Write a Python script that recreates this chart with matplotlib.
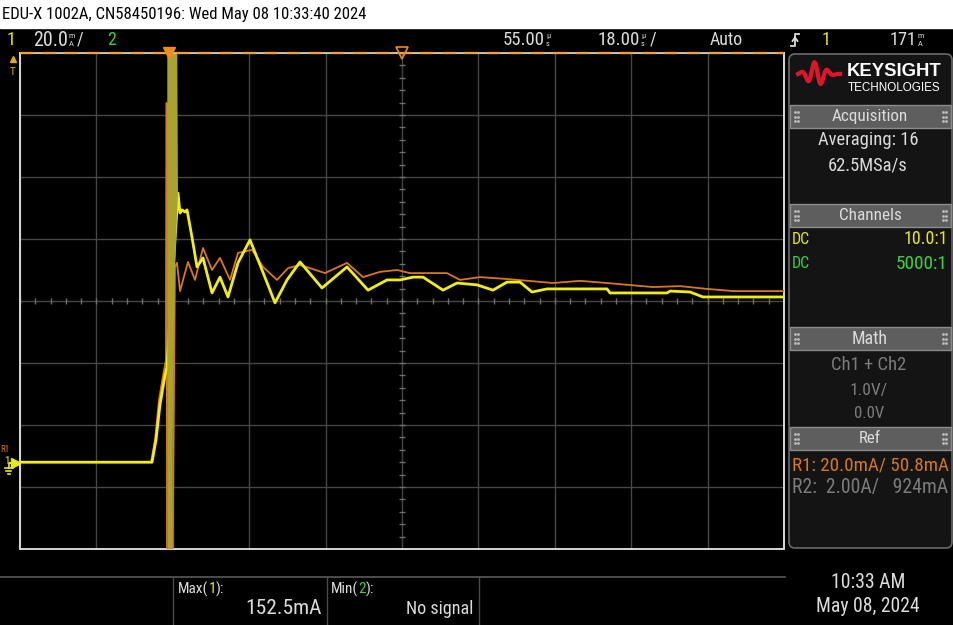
import os
import numpy as np
import matplotlib.pyplot as plt
from matplotlib import font_manager as fm
from matplotlib.font_manager import FontProperties
from matplotlib.patches import Rectangle, FancyBboxPatch

# scope settings
t_center = 55.0   # us  (delay)
t_div = 18.0      # us/div
i_center = 52.0   # mA at screen centre
i_div = 20.0      # mA/div

# Ch1 - yellow - IP coil (time in us, current in mA)
yel_t = [-35, -3.90, -2.96, -2.02, -0.84, -0.37, 2.22, 2.70, 3.17, 3.87, 4.35,
         5.52, 6.70, 8.11, 10.24, 12.12, 14.00, 16.36, 19.19, 22.02, 25.08,
         27.91, 30.97, 36.15, 42.04, 46.99, 51.47, 54.53, 57.59, 59.95, 64.66,
         67.96, 72.67, 76.44, 79.74, 82.80, 85.63, 89.16, 103.30, 104.00,
         117.43, 118.14, 122.85, 125.91, 145]
yel_i = [0, 0, 7.2, 18.5, 28.1, 30.7, 86.8, 80.4, 81.4, 80.7, 81.4,
         72.6, 63.0, 65.9, 54.6, 59.7, 53.3, 64.3, 71.7, 62.0, 51.4,
         58.8, 64.6, 56.2, 63.0, 55.5, 58.8, 58.8, 59.7, 59.7, 55.5,
         57.8, 57.2, 55.5, 58.1, 58.1, 54.9, 55.9, 55.9, 54.6,
         54.6, 55.2, 54.9, 53.3, 53.3]

# R1 - orange - OEM coil
org_t = [-35, -4.14, -3.19, -2.25, -1.07, -0.60, -0.45, -0.35, 0.80, 1.50, 1.99, 2.70,
         4.58, 6.23, 8.11, 10.24, 12.12, 14.48, 16.36, 19.66, 22.25, 25.55,
         28.14, 30.97, 33.32, 36.86, 42.04, 45.81, 49.82, 53.82, 56.88, 65.60,
         68.66, 73.38, 79.74, 90.57, 96.94, 103.30, 114.13, 120.50, 126.85,
         132.98, 145]
org_i = [0, 0, 7.2, 20.1, 29.7, 33.0, 115.9, -60, -60, 63.0, 64.3, 55.2,
         64.6, 58.8, 69.1, 62.0, 65.9, 58.8, 67.5, 68.5, 63.0, 58.8,
         62.6, 63.6, 62.6, 61.0, 64.3, 59.7, 61.4, 62.0, 61.0, 61.0,
         58.8, 59.7, 59.1, 57.8, 58.5, 57.8, 56.5, 56.8, 55.9,
         55.2, 55.2]

# averaged ringing at the spark (band between low / high envelope)
spike_t = [-0.30, -0.13, 0.81, 1.05, 1.52, 1.99, 2.22]
spike_lo = [30, -60, -60, 20, 62, 80, 86.8]
spike_hi = [150, 150, 150, 150, 150, 150, 86.8]

# pick a narrow font for the scope UI if one is installed
narrow = None
for key in ['LiberationSansNarrow-Regular', 'RobotoCondensed-Regular', 'DejaVuSansCondensed.ttf',
            'NotoSans-Condensed.ttf', 'Roboto-Regular']:
    for f in fm.fontManager.ttflist:
        if os.path.basename(f.fname).startswith(key):
            narrow = f.fname
            break
    if narrow:
        break


def fp(size):
    if narrow:
        return FontProperties(fname=narrow, size=size)
    return FontProperties(family='DejaVu Sans', size=size)


W, H = 954, 625
fig = plt.figure(figsize=(W / 100, H / 100), dpi=100, facecolor='black')
bg = fig.add_axes([0, 0, 1, 1])
bg.set_xlim(0, W)
bg.set_ylim(H, 0)
bg.axis('off')
r = fig.canvas.get_renderer()


def put(x, y, s, color, w=None, size=12, ha='left', prop=None):
    t = bg.text(x, y, s, color=color, ha=ha, va='center',
                fontproperties=prop if prop is not None else fp(size))
    if w:
        bw = t.get_window_extent(r).width
        t.set_fontsize(t.get_fontsize() * w / bw)
    return t


def seq(x, y, parts, size):
    # consecutive pieces of text in different colours
    for s, c in parts:
        t = bg.text(x, y, s, color=c, va='center', fontproperties=fp(size))
        x += t.get_window_extent(r).width
    return x


def unit(x, y, top, bot, color):
    bg.text(x, y - 4, top, color=color, va='center', fontproperties=fp(6))
    bg.text(x, y + 4, bot, color=color, va='center', fontproperties=fp(6))


ui = '#dcdcdc'
yel = '#e8e815'
grn = '#3cd23c'
orn = '#d9781e'
gry = '#7c7c7c'

# header
bg.add_patch(Rectangle((0, 0), W, 28, color='white'))
put(2, 14, 'EDU-X 1002A, CN58450196: Wed May 08 10:33:40 2024', 'black', w=363, size=12)

# status line
sy = 40
put(7, sy, '1', yel, size=13)
put(33, sy, '20.0', ui, w=35, size=13)
unit(69, sy, 'm', 'A', ui)
put(77, sy, '/', ui, size=13)
put(107, sy, '2', grn, size=13)
put(503, sy, '55.00', ui, w=42, size=13)
unit(546, sy, 'µ', 's', ui)
put(598, sy, '18.00', ui, w=42, size=13)
unit(641, sy, 'µ', 's', ui)
put(650, sy, '/', ui, size=13)
put(710, sy, 'Auto', ui, w=33, size=13)
bg.plot([791, 795, 795, 799], [46, 46, 34, 34], color=ui, lw=1.3)
bg.plot([792.5, 795, 797.5], [41, 37.5, 41], color=ui, lw=1.3)
put(822, sy, '1', yel, size=13)
put(890, sy, '171', ui, w=27, size=13)
unit(918, sy, 'm', 'A', ui)

# waveform area
ax = fig.add_axes([20 / W, 1 - 549 / H, 764 / W, 496 / H])
ax.set_facecolor('black')
ax.set_xlim(t_center - 5 * t_div, t_center + 5 * t_div)
ax.set_ylim(i_center - 4 * i_div, i_center + 4 * i_div)
ax.set_xticks(np.arange(t_center - 5 * t_div, t_center + 5 * t_div + 1, t_div))
ax.set_yticks(np.arange(i_center - 4 * i_div, i_center + 4 * i_div + 1, i_div))
ax.tick_params(length=0, labelbottom=False, labelleft=False)
ax.grid(True, color='#464646', lw=1)
for s in ['left', 'bottom', 'right']:
    ax.spines[s].set_color('#d8d8d8')
    ax.spines[s].set_linewidth(1.4)
ax.spines['top'].set_visible(False)
top = i_center + 4 * i_div
ax.axhline(top, color='#e6dcc4', lw=1.2, clip_on=False, zorder=7)
ax.axhline(top, color='#f0a040', lw=1.6, ls=(0, (6, 4)), clip_on=False, zorder=8)

# minor ticks on the centre lines
mt = np.arange(t_center - 5 * t_div, t_center + 5 * t_div + 0.1, t_div / 5)
ax.plot(mt, [i_center] * len(mt), ls='none', marker='|', ms=5, color='#6e6e6e', zorder=2)
mi = np.arange(i_center - 4 * i_div, i_center + 4 * i_div + 0.1, i_div / 5)
ax.plot([t_center] * len(mi), mi, ls='none', marker='_', ms=5, color='#6e6e6e', zorder=2)

ax.plot(org_t, org_i, color=orn, lw=1.3, zorder=3)
ax.plot(yel_t, yel_i, color='#f2ee12', lw=2.0, zorder=4)
ax.fill_between(spike_t, spike_lo, spike_hi, color='#a8a32c', lw=0, zorder=5)

# trigger / delay markers
ax.plot([0], [top], marker='v', color='#f08c1e', ms=9, clip_on=False, zorder=9)
ax.plot([t_center], [top], marker='v', mfc='none', mec='#f08c1e', ms=9, mew=1.2,
        clip_on=False, zorder=9)

# left markers
put(13, 72, 'T', '#e8a020', size=8, ha='center')
bg.plot([13], [59], marker='^', color='#e8a020', ms=4)
put(0, 449, 'R1', orn, size=6.5)
put(4, 461, '1', yel, size=8)
bg.plot([16], [463], marker='>', color=yel, ms=7)
bg.plot([10, 15], [463, 463], color=yel, lw=1.5)
bg.plot([9, 9], [463, 468], color=yel, lw=1.2)
bg.plot([5, 13], [468, 468], color=yel, lw=1.2)
bg.plot([6.5, 11.5], [471, 471], color=yel, lw=1.2)
bg.plot([8, 10], [474, 474], color=yel, lw=1.2)

# annotations
t0 = put(253, 378, 'Secondary Current Comparison', 'white', w=257,
         prop=FontProperties(family='Open Sans', size=12.5))
ann_size = t0.get_fontsize()
put(253, 410, 'Orange - OEM Coil', 'white', prop=FontProperties(family='Open Sans', size=ann_size))
put(253, 442, 'Yellow - IP Coil', 'white', prop=FontProperties(family='Open Sans', size=ann_size))

# right side panel
bg.add_patch(FancyBboxPatch((789, 54), 163, 494, boxstyle='round,pad=0,rounding_size=6',
                            fc='#141414', ec='#6a6a6a', lw=1.2))
lx = np.linspace(798, 840, 200)
env = 12 * np.exp(-((lx - 816) / 11) ** 2)
bg.plot(lx, 74 - env * np.sin((lx - 798) / 42 * 2 * np.pi * 3.2), color='#e2142c', lw=3)
put(847, 71, 'KEYSIGHT', 'white', w=95,
    prop=FontProperties(family='Liberation Sans', weight='bold', size=13))
put(848, 88, 'TECHNOLOGIES', 'white', w=92, prop=FontProperties(family='Liberation Sans', size=7))

for y0, title, tw in [(105, 'Acquisition', 76), (204, 'Channels', 62), (327, 'Math', 36), (427, 'Ref', 22)]:
    bg.add_patch(Rectangle((790, y0), 161, 23, fc='#5e5e5e', ec='#8c8c8c', lw=1))
    put(870, y0 + 11.5, title, ui, w=tw, size=13, ha='center')
    for dx in [795, 943]:
        bg.plot([dx, dx + 3, dx, dx + 3, dx, dx + 3],
                [y0 + 7, y0 + 7, y0 + 11.5, y0 + 11.5, y0 + 16, y0 + 16],
                ls='none', marker='.', ms=2, color='#bcbcbc')

put(868, 140, 'Averaging: 16', ui, w=100, size=13, ha='center')
put(868, 165, '62.5MSa/s', ui, w=80, size=13, ha='center')
put(792, 239, 'DC', yel, w=18, size=13)
put(948, 239, '10.0:1', yel, w=44, size=13, ha='right')
put(792, 264, 'DC', grn, w=18, size=13)
put(948, 264, '5000:1', grn, w=52, size=13, ha='right')
put(869, 365, 'Ch1 + Ch2', gry, w=75, size=13, ha='center')
put(869, 390, '1.0V/', gry, w=38, size=13, ha='center')
put(869, 413, '0.0V', gry, w=30, size=13, ha='center')
put(792, 465, 'R1: 20.0mA/ 50.8mA', '#d57a1c', w=156, size=13)
put(792, 488, 'R2:  2.00A/   924mA', gry, w=156, size=13)

# measurements bar
bg.plot([0, 785], [577, 577], color='#5a5a5a', lw=1.2)
for xx in [173, 327, 479]:
    bg.plot([xx, xx], [578, 625], color='#4a4a4a', lw=1)
seq(178, 589, [('Max(', ui), ('1', yel), ('):', ui)], 11)
put(322, 609, '152.5mA', ui, w=76, size=12, ha='right')
seq(331, 589, [('Min(', ui), ('2', grn), ('):', ui)], 11)
put(473, 609, 'No signal', ui, w=67, size=12, ha='right')
put(868, 582, '10:33 AM', ui, w=75, size=12.5, ha='center')
put(868, 607, 'May 08, 2024', ui, w=104, size=12.5, ha='center')

fig.savefig('out.png', dpi=100, facecolor='black')
